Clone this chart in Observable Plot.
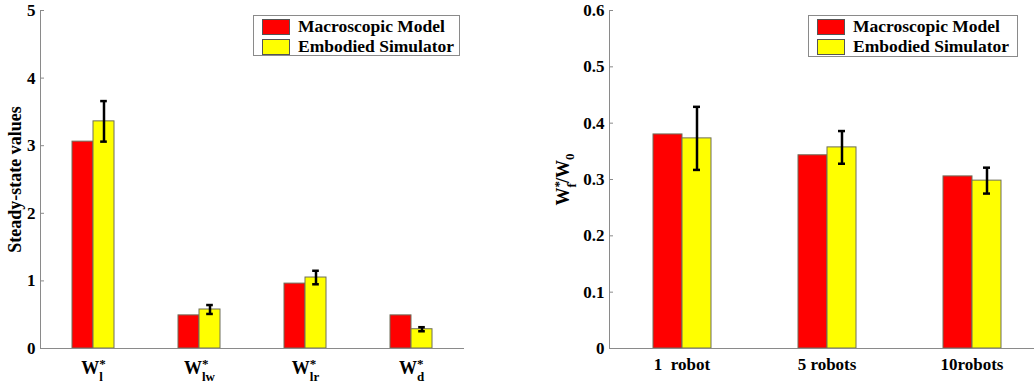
<!DOCTYPE html>
<html><head><meta charset="utf-8">
<script src="https://cdn.jsdelivr.net/npm/d3@7"></script>
<script src="https://cdn.jsdelivr.net/npm/@observablehq/plot@0.6"></script>
<style>
html,body{margin:0;padding:0;background:#fff;overflow:hidden;}
#wrap{position:relative;width:1034px;height:390px;overflow:hidden;}
.panel{position:absolute;top:0;}
.legend{position:absolute;box-sizing:border-box;border:1px solid #8a8a8a;background:#fff;font-family:"Liberation Serif","DejaVu Serif",serif;font-weight:bold;font-size:17.5px;color:#000;}
.legend .row{position:absolute;left:8px;height:16px;line-height:16px;white-space:nowrap;}
.legend .sw{position:absolute;left:0;top:0;width:26px;height:14px;border:1px solid #555;}
.legend .lab{position:absolute;left:36px;top:-1px;}
</style>
</head><body>
<div id="wrap"></div>
<script>
// ---------- data ----------
const series = ["Macroscopic Model", "Embodied Simulator"];
const colors = ["#ff0000", "#ffff00"];

// left panel
const leftCats = ["l", "lw", "lr", "d"];
const leftBase = "W";
const leftMacro = [3.06, 0.49, 0.96, 0.49];
const leftEmb = [3.36, 0.577, 1.05, 0.285];
const leftErr = [0.30, 0.066, 0.10, 0.03];
const leftTicks = [0, 1, 2, 3, 4, 5];
const leftYLabel = "Steady-state values";

// right panel
const rightCats = ["1  robot", "5 robots", "10robots"];
const rightMacro = [0.380, 0.343, 0.3055];
const rightEmb = [0.373, 0.357, 0.298];
const rightErr = [0.056, 0.029, 0.023];
const rightTicks = [0, 0.1, 0.2, 0.3, 0.4, 0.5, 0.6];
const rightYLabelParts = [["W", "base"], ["*", "sup"], ["f", "stacksub"], ["/W", "back"], ["0", "sub"]];

const FONT = '"Liberation Serif", "DejaVu Serif", serif';

function makeChart({cats, macro, emb, err, ticks, domain, width, marginLeft, marginRight, yLabel, labelOffset, tickFormat, fxPadding}) {
  const rows = cats.flatMap((c, i) => [
    {cat: c, s: series[0], v: macro[i]},
    {cat: c, s: series[1], v: emb[i]}
  ]);
  const errs = cats.map((c, i) => ({cat: c, s: series[1], lo: emb[i] - err[i], hi: emb[i] + err[i]}));
  const bw = (width - marginLeft - marginRight) / cats.length * 0.2;
  const capInset = (bw - 7) / 2;
  return Plot.plot({
    width, height: 390,
    marginLeft, marginRight, marginTop: 10, marginBottom: 42,
    style: {fontFamily: FONT, fontWeight: "bold", fontSize: "17px", background: "transparent", color: "#000", overflow: "visible"},
    fx: {domain: cats, paddingInner: 0, paddingOuter: 0, label: null},
    x: {domain: series, paddingInner: 0, paddingOuter: 1.5, axis: null},
    y: {domain, label: null},
    color: {domain: series, range: colors},
    marks: [
      Plot.barY(rows, {fx: "cat", x: "s", y: "v", fill: "s", stroke: "#6e6e5a", strokeWidth: 1}),
      Plot.ruleX(errs, {fx: "cat", x: "s", y1: "lo", y2: "hi", stroke: "#000", strokeWidth: 2.5}),
      Plot.tickY(errs, {fx: "cat", x: "s", y: "lo", stroke: "#000", strokeWidth: 2.5, insetLeft: capInset, insetRight: capInset}),
      Plot.tickY(errs, {fx: "cat", x: "s", y: "hi", stroke: "#000", strokeWidth: 2.5, insetLeft: capInset, insetRight: capInset}),
      Plot.ruleY([0], {stroke: "#8a8a8a"}),
      Plot.frame({anchor: "left", facetAnchor: "left", stroke: "#8a8a8a"}),
      Plot.axisY(ticks, {anchor: "left", tickSize: 4, dx: 4, stroke: "#8a8a8a", tickFormat: () => "", label: null}),
      Plot.axisY(ticks, {anchor: "left", tickSize: 0, tickPadding: 5, tickFormat, fontSize: 17,
        label: yLabel, labelAnchor: "center", labelArrow: "none", labelOffset, fill: "#000"}),
      Plot.axisFx({anchor: "bottom", tickSize: 0, tickPadding: fxPadding, label: null, fontSize: 17, tickFormat: d => d, fill: "#000"})
    ]
  });
}

// --- rich text helpers (super/subscripts) ---
function setParts(textEl, parts) {
  const t = d3.select(textEl);
  t.text(null);
  parts.forEach(([s, kind]) => {
    const sp = t.append("tspan").text(s);
    if (kind === "sup") sp.attr("dy", -6).attr("font-size", 13);
    else if (kind === "stacksub") sp.attr("dy", 13).attr("dx", -6.5).attr("font-size", 13);
    else if (kind === "sub") sp.attr("dy", 5).attr("font-size", 13);
    else if (kind === "back") sp.attr("dy", -7);
  });
}

const wrap = document.getElementById("wrap");

// left chart
const left = makeChart({cats: leftCats, macro: leftMacro, emb: leftEmb, err: leftErr, ticks: leftTicks,
  domain: [0, 5], width: 480, marginLeft: 38, marginRight: 15, yLabel: leftYLabel, labelOffset: 32,
  tickFormat: d => String(d), fxPadding: 13});
left.classList.add("panel"); left.style.left = "0px";
wrap.appendChild(left);
d3.select(left).selectAll('g[aria-label="y-axis label"] text').attr("font-size", 18);
d3.select(left).selectAll('g[aria-label="fx-axis tick label"] text').attr("font-size", 18).each(function () {
  const key = this.textContent;
  setParts(this, [[leftBase, "base"], ["*", "sup"], [key, "stacksub"]]);
});

// right chart
const right = makeChart({cats: rightCats, macro: rightMacro, emb: rightEmb, err: rightErr, ticks: rightTicks,
  domain: [0, 0.6], width: 504, marginLeft: 69, marginRight: 0, yLabel: "W*f/W0", labelOffset: 53,
  tickFormat: d => d === 0 ? "0" : d.toFixed(1), fxPadding: 9});
right.classList.add("panel"); right.style.left = "540px";
wrap.appendChild(right);
d3.select(right).selectAll('g[aria-label="y-axis label"] text').attr("font-size", 18).each(function () {
  setParts(this, rightYLabelParts);
});
d3.select(right).selectAll('g[aria-label="fx-axis tick label"] text').style("white-space", "pre");

// legends
function addLegend(x, y, w, h) {
  const div = document.createElement("div");
  div.className = "legend";
  Object.assign(div.style, {left: x + "px", top: y + "px", width: w + "px", height: h + "px"});
  series.forEach((s, i) => {
    const row = document.createElement("div");
    row.className = "row";
    row.style.top = (3 + i * 20) + "px";
    const sw = document.createElement("span");
    sw.className = "sw"; sw.style.background = colors[i];
    const lab = document.createElement("span");
    lab.className = "lab"; lab.textContent = s;
    row.appendChild(sw); row.appendChild(lab);
    div.appendChild(row);
  });
  wrap.appendChild(div);
}
addLegend(253, 15, 207, 41);
addLegend(808, 15, 210, 42);
</script>
</body></html>
